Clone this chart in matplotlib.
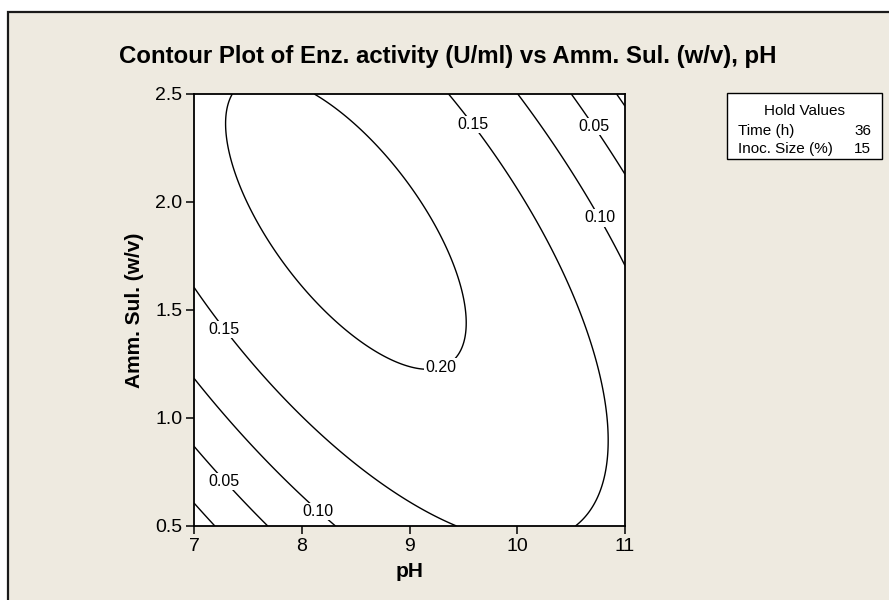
import numpy as np
import matplotlib
matplotlib.use("Agg")
import matplotlib.pyplot as plt
from matplotlib.patches import Rectangle

# fitted response surface for Enz. activity (U/ml), Time = 36 h, Inoc. Size = 15 %
# terms: const, pH, AmmSul, pH^2, AmmSul^2, pH*AmmSul
coef_const = -2.117144
coef_ph = 0.421767
coef_as = 0.585810
coef_ph2 = -0.0199864
coef_as2 = -0.0544868
coef_ph_as = -0.0450173

ph_range = [7, 11]
as_range = [0.5, 2.5]
levels = [0.00, 0.05, 0.10, 0.15, 0.20]
label_levels = [0.15, 0.05, 0.10, 0.15, 0.20, 0.05, 0.10]
x_ticks = [7, 8, 9, 10, 11]
y_ticks = [0.5, 1.0, 1.5, 2.0, 2.5]

hold_names = ["Time (h)", "Inoc. Size (%)"]
hold_values = ["36", "15"]

bg = "#EEEAE0"
plt.rcParams['font.family'] = ['Liberation Sans', 'DejaVu Sans']

fig = plt.figure(figsize=(8.89, 6), dpi=100, facecolor='white')
# beige panel with outer frame (cut off at right and bottom like the screenshot)
fig.patches.append(Rectangle((8/889, -0.1), 1.2, 1 - 12/600 + 0.1, transform=fig.transFigure,
                             facecolor=bg, edgecolor='#1a1a1a', linewidth=1.6, zorder=-10))

ax = fig.add_axes([194/889, 1 - 526/600, 431/889, 432/600])

ph = np.linspace(ph_range[0], ph_range[1], 300)
am = np.linspace(as_range[0], as_range[1], 300)
PH, AM = np.meshgrid(ph, am)
Z = (coef_const + coef_ph * PH + coef_as * AM + coef_ph2 * PH**2
     + coef_as2 * AM**2 + coef_ph_as * PH * AM)

ax.contour(PH, AM, Z, levels=levels, colors='black', linewidths=1.0)

# horizontal contour labels placed in gaps, Minitab style
label_spots = [(9.59, 2.358), (10.71, 2.35), (10.77, 1.926), (7.275, 1.41),
               (9.29, 1.236), (7.275, 0.707), (8.15, 0.568)]
for (lx, ly), lv in zip(label_spots, label_levels):
    ax.text(lx, ly, f"{lv:.2f}", ha='center', va='center', fontsize=11.5,
            bbox=dict(facecolor='white', edgecolor='none', pad=0.8), zorder=5)

ax.set_xlim(ph_range)
ax.set_ylim(as_range)
ax.set_xticks(x_ticks)
ax.set_yticks(y_ticks)
ax.set_yticklabels([f"{v:.1f}" for v in y_ticks])
ax.tick_params(direction='out', length=5.5, width=1.1, labelsize=14, pad=3)
for s in ax.spines.values():
    s.set_linewidth(1.3)

ax.set_xlabel("pH", fontsize=15, fontweight='bold', labelpad=5)
ax.set_ylabel("Amm. Sul. (w/v)", fontsize=15, fontweight='bold', labelpad=8)

fig.text(448/889, 1 - 63/600, "Contour Plot of Enz. activity (U/ml) vs Amm. Sul. (w/v), pH",
         ha='center', va='baseline', fontsize=17.3, fontweight='bold')

# hold values box
bx0, bx1, by0, by1 = 727, 882, 93, 159
fig.patches.append(Rectangle((bx0/889, 1 - by1/600), (bx1 - bx0)/889, (by1 - by0)/600,
                             transform=fig.transFigure, facecolor='white',
                             edgecolor='black', linewidth=1.0))
fig.text((bx0 + bx1)/2/889, 1 - 111/600, "Hold Values", ha='center', va='center', fontsize=11)
for i, (n, v) in enumerate(zip(hold_names, hold_values)):
    yy = 1 - (131 + 18*i)/600
    fig.text(738/889, yy, n, ha='left', va='center', fontsize=11)
    fig.text(871/889, yy, v, ha='right', va='center', fontsize=11)

fig.savefig("out.png", dpi=100, facecolor='white')
